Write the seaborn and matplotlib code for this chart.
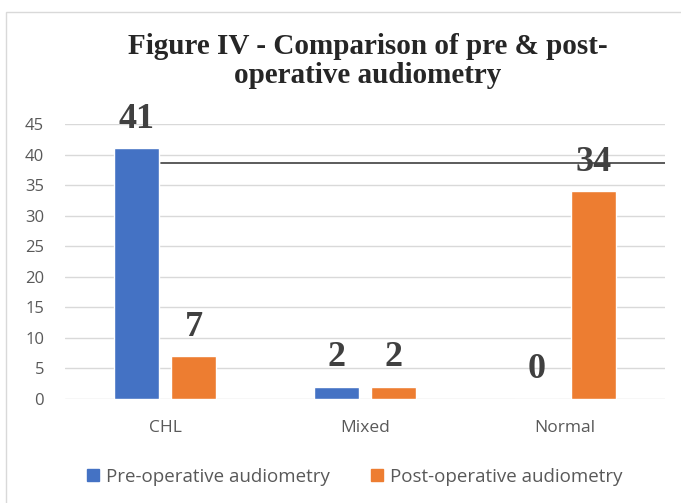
import pandas as pd
import matplotlib.pyplot as plt
import seaborn as sns
from matplotlib.patches import Rectangle

# data
categories = ['CHL', 'Mixed', 'Normal']
pre_op = [41, 2, 0]
post_op = [7, 2, 34]
series = ['Pre-operative audiometry', 'Post-operative audiometry']
colors = ['#4472C4', '#ED7D31']
title = 'Figure IV - Comparison of pre & post-\noperative audiometry'

df = pd.DataFrame({
    'category': categories * 2,
    'series': [series[0]] * 3 + [series[1]] * 3,
    'value': pre_op + post_op,
})

sns.set_style('white')
plt.rcParams['font.family'] = ['Open Sans', 'DejaVu Sans']

fig = plt.figure(figsize=(6.81, 5.03), dpi=100)
ax = fig.add_axes([0.0954, 0.2068, 0.881, 0.5467])

sns.barplot(data=df, x='category', y='value', hue='series', order=categories,
            hue_order=series, palette=colors, width=0.575, gap=0.22,
            saturation=1, legend=False, ax=ax)

for cont in ax.containers:
    ax.bar_label(cont, fmt='%d', padding=9, fontsize=26, fontweight='bold',
                 family='Liberation Serif', color='#404040')

ax.set_ylim(0, 45)
ax.set_xlim(-0.5, 2.5)
ax.set_yticks(range(0, 46, 5))
ax.yaxis.grid(True, color='#D9D9D9', linewidth=1)
ax.set_axisbelow(True)
for s in ax.spines.values():
    s.set_visible(False)
ax.tick_params(axis='both', length=0, labelcolor='#595959')
ax.tick_params(axis='x', pad=15, labelsize=12.5)
ax.tick_params(axis='y', pad=15, labelsize=12)
ax.set_xlabel('')
ax.set_ylabel('')

# stray dark rule in the original image
ax.axhline(38.6, xmin=0.16, xmax=1.0, color='#404040', linewidth=1.2, zorder=5)

fig.text(0.5396, 0.879, title, ha='center', va='center', fontsize=21,
         fontweight='bold', family='Liberation Serif', linespacing=1.1)

handles = [Rectangle((0, 0), 1, 1, color=c) for c in colors]
leg = fig.legend(handles, series, loc='center', bbox_to_anchor=(0.521, 0.052),
                 ncol=2, frameon=False, fontsize=13.5, handlelength=0.64,
                 handleheight=0.64, columnspacing=2.2, handletextpad=0.37)
for t in leg.get_texts():
    t.set_color('#595959')

# light chart frame
fig.patches.append(Rectangle((6 / 681, -0.1), 1.2, 1 - 12 / 503 + 0.1,
                             transform=fig.transFigure, fill=False,
                             edgecolor='#D9D9D9', linewidth=1))

fig.savefig('out.png', dpi=100)
